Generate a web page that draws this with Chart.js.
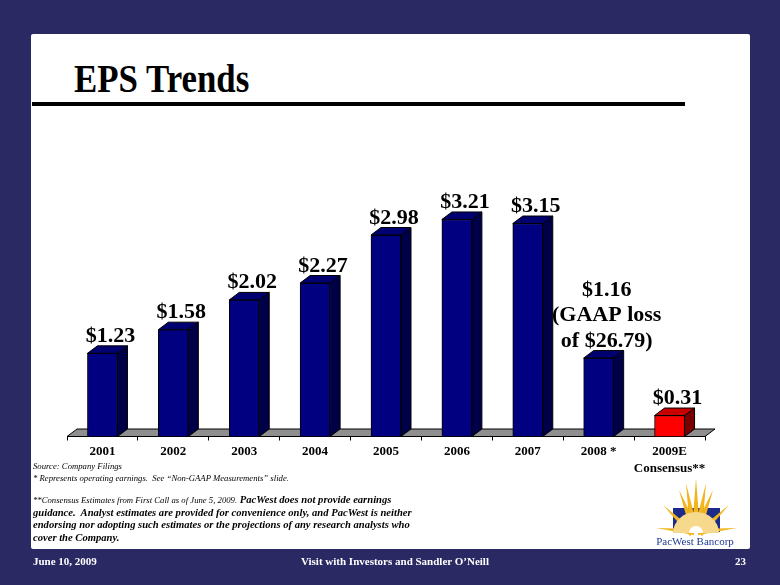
<!DOCTYPE html>
<html>
<head>
<meta charset="utf-8">
<script src="https://cdn.jsdelivr.net/npm/chart.js@4.4.0/dist/chart.umd.min.js"></script>
<style>
    body { margin: 0; width: 780px; height: 585px; background: #2a2963; position: relative; overflow: hidden; font-family: "Liberation Serif", "Times New Roman", serif; }
    .panel { position: absolute; left: 31px; top: 34px; width: 719px; height: 515px; background: #fff; border-radius: 2px; }
    .title { position: absolute; left: 74px; top: 58px; font-size: 41px; font-weight: bold; color: #000; transform: scaleX(0.85); transform-origin: left top; line-height: 1; white-space: nowrap; }
    .rule { position: absolute; left: 32px; top: 102px; width: 653px; height: 4px; background: #000; }
    #chart-box { position: absolute; left: 31px; top: 150px; width: 719px; height: 330px; }
    .note { position: absolute; left: 33px; color: #000; white-space: nowrap; line-height: 1; font-size: 10.6px; }
    .small { font-style: italic; font-size: 8.7px; }
    .bi { font-style: italic; font-weight: bold; font-size: 10.6px; }
    .foot { position: absolute; top: 556px; color: #fff; font-weight: bold; font-size: 11px; white-space: nowrap; line-height: 1; }
    #logo { position: absolute; left: 650px; top: 474px; }
</style>
</head>
<body>
<div class="panel"></div>
<div class="title">EPS Trends</div>
<div class="rule"></div>

<div id="chart-box"><canvas id="eps-chart" width="719" height="330"></canvas></div>

<div class="note small" style="top:462px;">Source: Company Filings</div>
<div class="note small" style="top:474px;">* Represents operating earnings.&nbsp; See “Non-GAAP Measurements” slide.</div>
<div class="note" style="top:494.5px;"><span class="small">**Consensus Estimates from First Call as of June 5, 2009.</span> <span class="bi">PacWest does not provide earnings</span></div>
<div class="note bi" style="top:507.5px;">guidance.&nbsp; Analyst estimates are provided for convenience only, and PacWest is neither</div>
<div class="note bi" style="top:520px;">endorsing nor adopting such estimates or the projections of any research analysts who</div>
<div class="note bi" style="top:533px;">cover the Company.</div>

<svg id="logo" width="96" height="74" viewBox="650 474 96 74">
    <rect x="673" y="508" width="47" height="24" fill="#1c2a8a"/>
    <g fill="#f2b51c">
        <polygon points="696,478 700,530 692,530"/>
        <polygon points="679,490 699,530 691,533"/>
        <polygon points="713,490 701,533 693,530"/>
        <polygon points="663,505 695,531 690,536"/>
        <polygon points="729,505 702,536 697,531"/>
        <polygon points="656,528 694,529 694,535"/>
        <polygon points="737,528 698,529 698,535"/>
        <polygon points="686,483 698,530 690,531"/>
        <polygon points="706,483 702,531 694,530"/>
    </g>
    <path d="M673,533 A23,21 0 0 1 719,533 Z" fill="#f7d98e"/>
    <path d="M689,533 A7,7 0 0 1 703,533 Z" fill="#fff"/>
    <text x="695" y="545" text-anchor="middle" font-family="Liberation Serif" font-size="11" fill="#1f3a93">PacWest Bancorp</text>
</svg>

<div class="foot" style="left:33px;">June 10, 2009</div>
<div class="foot" style="left:301px;">Visit with Investors and Sandler O’Neill</div>
<div class="foot" style="left:735px;">23</div>

<script>
// Chart data
var categories = ['2001', '2002', '2003', '2004', '2005', '2006', '2007', '2008 *', ['2009E', 'Consensus**']];
var eps = [1.23, 1.58, 2.02, 2.27, 2.98, 3.21, 3.15, 1.16, 0.31];
var valueLabels = [
    ['$1.23'], ['$1.58'], ['$2.02'], ['$2.27'], ['$2.98'], ['$3.21'], ['$3.15'],
    ['$1.16', '(GAAP loss', 'of $26.79)'],
    ['$0.31']
];

var DX = 10, DY = 7.5;
var serif = '"Liberation Serif", "Times New Roman", serif';

function isEstimate(i) {
    return i === eps.length - 1;
}

// floor under the bars + 3d faces + value labels
var threeD = {
    id: 'threeD',
    beforeDatasetsDraw: function (chart) {
        var ctx = chart.ctx, a = chart.chartArea;
        ctx.save();
        ctx.beginPath();
        ctx.moveTo(a.left, a.bottom);
        ctx.lineTo(a.right, a.bottom);
        ctx.lineTo(a.right + DX, a.bottom - DY);
        ctx.lineTo(a.left + DX, a.bottom - DY);
        ctx.closePath();
        ctx.fillStyle = '#8f8f8f';
        ctx.fill();
        ctx.strokeStyle = '#000';
        ctx.lineWidth = 1;
        ctx.stroke();
        ctx.restore();
    },
    afterDatasetsDraw: function (chart) {
        var ctx = chart.ctx;
        var meta = chart.getDatasetMeta(0);
        ctx.save();
        ctx.strokeStyle = '#000';
        ctx.lineWidth = 1;
        meta.data.forEach(function (bar, i) {
            var half = bar.width / 2;
            var l = bar.x - half, r = bar.x + half, t = bar.y, b = bar.base;
            // side
            ctx.beginPath();
            ctx.moveTo(r, t);
            ctx.lineTo(r + DX, t - DY);
            ctx.lineTo(r + DX, b - DY);
            ctx.lineTo(r, b);
            ctx.closePath();
            ctx.fillStyle = isEstimate(i) ? '#7a0000' : '#000048';
            ctx.fill();
            ctx.stroke();
            // top
            ctx.beginPath();
            ctx.moveTo(l, t);
            ctx.lineTo(l + DX, t - DY);
            ctx.lineTo(r + DX, t - DY);
            ctx.lineTo(r, t);
            ctx.closePath();
            ctx.fillStyle = isEstimate(i) ? '#c80000' : '#000070';
            ctx.fill();
            ctx.stroke();

            // labels
            var lines = valueLabels[i];
            ctx.fillStyle = '#000';
            ctx.font = 'bold 22px ' + serif;
            ctx.textAlign = 'center';
            ctx.textBaseline = 'alphabetic';
            for (var k = 0; k < lines.length; k++) {
                var y = t - DY - 4 - (lines.length - 1 - k) * 25.5;
                ctx.fillText(lines[k], bar.x + 8, y);
            }
        });
        ctx.restore();
    }
};

var ctx = document.getElementById('eps-chart');
var myChart = new Chart(ctx, {
    type: 'bar',
    data: {
        labels: categories,
        datasets: [{
            label: 'EPS',
            data: eps,
            backgroundColor: function (c) { return isEstimate(c.dataIndex) ? '#ff0000' : '#000080'; },
            borderColor: '#000',
            borderWidth: 1,
            barThickness: 30
        }]
    },
    options: {
        responsive: false,
        animation: false,
        layout: { padding: { left: 36, right: 45, top: 43.1, bottom: 3.5 } },
        plugins: {
            legend: { display: false },
            tooltip: { enabled: false },
            title: { display: false }
        },
        scales: {
            x: {
                offset: true,
                afterFit: function (s) { s.height = 40; },
                grid: { offset: true, drawOnChartArea: false, tickLength: 4, color: '#000' },
                border: { color: '#000', width: 1 },
                ticks: {
                    color: '#000',
                    padding: 3,
                    maxRotation: 0,
                    autoSkip: false,
                    font: { family: serif, size: 13, weight: 'bold', lineHeight: 1.3 }
                }
            },
            y: {
                display: false,
                min: 0,
                max: 3.6
            }
        }
    },
    plugins: [threeD]
});
</script>
</body>
</html>
